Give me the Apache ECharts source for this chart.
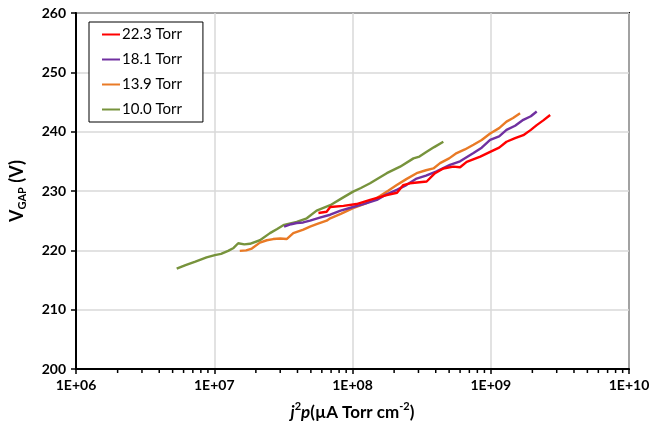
<!DOCTYPE html>
<html>
<head>
<meta charset="utf-8">
<script src="https://cdn.jsdelivr.net/npm/echarts@6/dist/echarts.min.js"></script>
<style>html,body{margin:0;padding:0;background:#fff}#c{width:653px;height:429px}</style>
</head>
<body>
<div id="c"></div>
<script>
const seriesNames = ['22.3 Torr', '18.1 Torr', '13.9 Torr', '10.0 Torr'];
const xTickLabels = ['1E+06', '1E+07', '1E+08', '1E+09', '1E+10'];
const minorTickValues = [
  2e6,3e6,4e6,5e6,6e6,7e6,8e6,9e6,
  2e7,3e7,4e7,5e7,6e7,7e7,8e7,9e7,
  2e8,3e8,4e8,5e8,6e8,7e8,8e8,9e8,
  2e9,3e9,4e9,5e9,6e9,7e9,8e9,9e9
];

const x223 = [5.67e7,6.5e7,6.9e7,8.6e7,1.07e8,1.34e8,1.77e8,2.1e8,2.33e8,2.6e8,3.44e8,3.95e8,4.54e8,5.36e8,6.0e8,6.7e8,8.4e8,9.9e8,1.15e9,1.3e9,1.5e9,1.72e9,1.95e9,2.15e9,2.4e9,2.69e9];
const y223 = [226.3,226.5,227.3,227.5,227.8,228.5,229.3,229.7,231.0,231.3,231.6,233.0,233.8,234.1,234.0,234.9,235.8,236.6,237.3,238.3,238.9,239.4,240.3,241.1,241.9,242.8];

const x181 = [3.2e7,3.6e7,3.95e7,4.4e7,4.93e7,5.8e7,6.9e7,8.2e7,1.01e8,1.2e8,1.5e8,1.75e8,2.09e8,2.45e8,2.91e8,3.4e8,4.06e8,5.07e8,6.0e8,7.5e8,8.6e8,9.9e8,1.15e9,1.3e9,1.5e9,1.72e9,1.95e9,2.15e9];
const y181 = [224.0,224.4,224.6,224.7,225.0,225.5,226.0,226.7,227.3,227.8,228.5,229.4,230.2,231.0,232.1,232.6,233.3,234.4,235.0,236.4,237.3,238.6,239.2,240.3,241.0,242.0,242.6,243.4];

const x139 = [1.53e7,1.7e7,1.87e7,2.14e7,2.4e7,2.67e7,3.0e7,3.34e7,3.73e7,4.41e7,4.93e7,5.5e7,6.5e7,6.9e7,8.3e7,1.01e8,1.25e8,1.5e8,1.8e8,2.09e8,2.45e8,2.91e8,3.4e8,3.85e8,4.3e8,5.0e8,5.67e8,6.5e8,7.5e8,8.6e8,9.9e8,1.15e9,1.3e9,1.45e9,1.63e9];
const y139 = [219.9,220.0,220.3,221.3,221.7,221.9,222.0,221.9,222.9,223.5,224.0,224.4,225.0,225.4,226.2,227.1,227.9,228.8,230.0,231.0,232.0,233.0,233.5,233.8,234.7,235.5,236.4,237.0,237.8,238.6,239.7,240.6,241.7,242.3,243.1];

const x100 = [5.35e6,6.2e6,7.3e6,8.8e6,1.01e7,1.12e7,1.26e7,1.38e7,1.49e7,1.65e7,1.81e7,2.14e7,2.53e7,2.85e7,3.2e7,3.95e7,4.67e7,5.5e7,6.9e7,8.4e7,1.01e8,1.15e8,1.34e8,1.55e8,1.77e8,2.21e8,2.76e8,3.05e8,3.44e8,3.9e8,4.54e8];
const y100 = [216.9,217.5,218.1,218.8,219.2,219.4,219.9,220.4,221.2,221.0,221.1,221.7,222.9,223.6,224.3,224.8,225.4,226.7,227.6,228.8,229.9,230.5,231.3,232.2,233.0,234.1,235.5,235.8,236.6,237.4,238.3];

const colors = ['#FF0000', '#7030A0', '#E97A26', '#77933C'];
const xs = [x223, x181, x139, x100];
const ys = [y223, y181, y139, y100];

const FONT = 'Lato, "Open Sans", sans-serif';
const LEGEND_ICON = 'path://M0,0 L9,0 L9,1 L0,1 Z';

const lineSeries = seriesNames.map((n, i) => ({
  name: n,
  type: 'line',
  symbol: 'none',
  z: 5 - i,
  lineStyle: { color: colors[i], width: 2.4 },
  itemStyle: { color: colors[i] },
  data: xs[i].map((x, k) => [x, ys[i][k]])
}));

const minorSeries = {
  type: 'custom',
  silent: true,
  clip: false,
  data: minorTickValues.map(v => [v, 200]),
  renderItem: function (params, api) {
    const p = api.coord([api.value(0), api.value(1)]);
    return {
      type: 'line',
      shape: { x1: p[0], y1: p[1], x2: p[0], y2: p[1] + 4 },
      style: { stroke: '#000', lineWidth: 1.5 }
    };
  }
};

const chart = echarts.init(document.getElementById('c'));
chart.setOption({
  animation: false,
  backgroundColor: '#fff',
  grid: { left: 76, right: 24, top: 13, bottom: 60, outerBoundsMode: 'none', containLabel: false, show: true, borderColor: '#000', borderWidth: 2, backgroundColor: 'transparent' },
  legend: {
    data: seriesNames.map(n => ({ name: n, icon: LEGEND_ICON })),
    orient: 'vertical',
    left: 89, top: 22,
    backgroundColor: '#fff',
    borderColor: '#000', borderWidth: 1,
    borderRadius: 0,
    padding: [5, 21, 5, 13],
    itemWidth: 18, itemHeight: 14, itemGap: 10,
    textStyle: { fontFamily: FONT, fontSize: 15, color: '#000', padding: [0, 0, 0, -3] }
  },
  xAxis: {
    type: 'log', logBase: 10, min: 1e6, max: 1e10, interval: 1,
    axisLine: { onZero: false, lineStyle: { color: '#000', width: 2 } },
    axisTick: { show: true, length: 5, lineStyle: { color: '#000', width: 1.5 } },
    axisLabel: {
      fontFamily: FONT, fontWeight: 'bold', fontSize: 14, color: '#000', margin: 9,
      formatter: v => xTickLabels[Math.round(Math.log10(v)) - 6]
    },
    splitLine: { show: true, lineStyle: { color: '#D9D9D9', width: 1.5 } },
    name: '{i|j}{sup|2}{i|p}{n|(µA Torr cm}{sup|-2}{n|)}',
    nameLocation: 'middle', nameGap: 32,
    nameTextStyle: {
      rich: {
        i: { fontFamily: FONT, fontWeight: 'bold', fontStyle: 'italic', fontSize: 17, color: '#000' },
        n: { fontFamily: FONT, fontWeight: 'bold', fontSize: 17, color: '#000' },
        sup: { fontFamily: FONT, fontWeight: 'bold', fontSize: 11, color: '#000', verticalAlign: 'top', lineHeight: 24 }
      }
    }
  },
  yAxis: {
    type: 'value', min: 200, max: 260, interval: 10,
    axisLine: { show: true, onZero: false, lineStyle: { color: '#000', width: 2 } },
    axisTick: { show: true, length: 5, lineStyle: { color: '#000', width: 1.5 } },
    axisLabel: { fontFamily: FONT, fontWeight: 'bold', fontSize: 14, color: '#000', margin: 10 },
    splitLine: { show: true, lineStyle: { color: '#D9D9D9', width: 1.5 } },
    name: '{b|V}{s|GAP}{b| (V)}',
    nameLocation: 'middle', nameRotate: 90, nameGap: 48,
    nameTextStyle: {
      rich: {
        b: { fontFamily: FONT, fontWeight: 'bold', fontSize: 18, color: '#000' },
        s: { fontFamily: FONT, fontWeight: 'bold', fontSize: 11, color: '#000', verticalAlign: 'bottom', lineHeight: 22 }
      }
    }
  },
  series: lineSeries.concat([minorSeries])
});
</script>
</body>
</html>
